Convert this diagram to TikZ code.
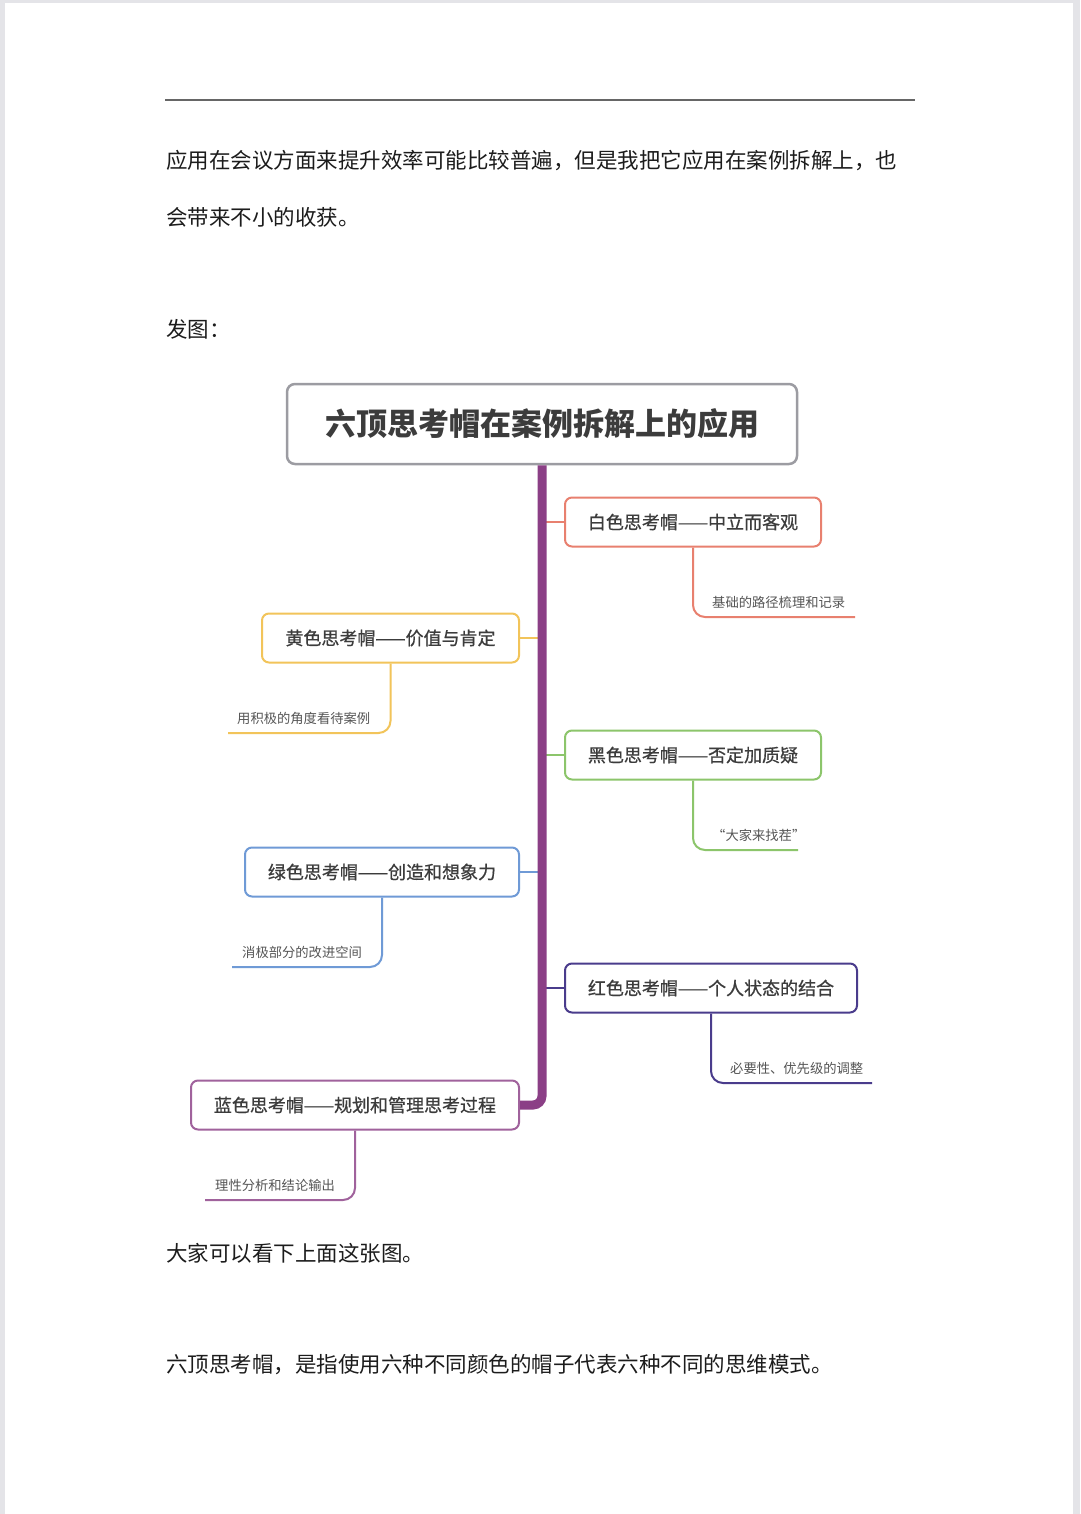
\documentclass[tikz,border=0pt]{standalone}
\usepackage{fontspec}
\setmainfont{Noto Sans CJK SC}
\newfontfamily\hatfont[FakeBold=0.7]{Noto Sans CJK SC}
\usepackage{xcolor}
\usepackage{tikz}
\usetikzlibrary{positioning,calc}
\definecolor{PageEdge}{HTML}{E4E4E8}
\definecolor{BodyInk}{HTML}{1C1C1C}
\definecolor{BoxInk}{HTML}{3C3C3C}
\definecolor{SubInk}{HTML}{555555}
\definecolor{TitleRule}{HTML}{9C9CA2}
\definecolor{TrunkPurple}{HTML}{8B3F86}
\definecolor{HatWhite}{HTML}{E8806F}
\definecolor{HatYellow}{HTML}{F2C45A}
\definecolor{HatBlack}{HTML}{8CC56B}
\definecolor{HatGreen}{HTML}{6F9AD6}
\definecolor{HatRed}{HTML}{4A3C8C}
\definecolor{HatBlue}{HTML}{A0629C}

\begin{document}
\begin{tikzpicture}[x=1pt,y=-1pt,
  body/.style={anchor=west,inner sep=0pt,text=BodyInk,font=\fontsize{21.5}{26}\selectfont},
  hat/.style={draw=#1,line width=2pt,rounded corners=7pt,fill=white,minimum height=49pt,inner sep=0pt,
    text=BoxInk,font=\hatfont\fontsize{18}{22}\selectfont},
  link/.style={draw=#1,line width=2.5pt},
  leaf/.style={draw=#1,line width=2pt,rounded corners=12pt},
  sub/.style={anchor=west,inner sep=0pt,text=SubInk,font=\fontsize{13.3}{16}\selectfont}
]
\useasboundingbox (0,0) rectangle (1080,1514);
\fill[PageEdge] (0,0) rectangle (1080,1514);
\fill[white] (5,3) rectangle (1073,1514);

% page text
\coordinate (ruleL) at (165,100);
\coordinate (ruleR) at (915,100);
\draw[line width=2.2pt,black!60] (ruleL) -- (ruleR);
\node[body] (para1) at (166,161) {应用在会议方面来提升效率可能比较普遍，但是我把它应用在案例拆解上，也};
\node[body] (para2) at (166,217) {会带来不小的收获。};
\node[body] (fatu) at (166,329) {发图：};
\node[body] (look) at (166,1253) {大家可以看下上面这张图。};
\node[body] (define) at (166,1365) {六顶思考帽，是指使用六种不同颜色的帽子代表六种不同的思维模式。};

% mind map
\node[draw=TitleRule,line width=2.5pt,rounded corners=8pt,minimum width=510pt,minimum height=80pt,
  text=BoxInk,font=\fontsize{31}{36}\selectfont\bfseries] (title) at (542,424) {六顶思考帽在案例拆解上的应用};

\node[hat=HatWhite,minimum width=256pt] (white) at (693,522) {白色思考帽——中立而客观};
\node[hat=HatYellow,minimum width=257pt] (yellow) at (390.5,638) {黄色思考帽——价值与肯定};
\node[hat=HatBlack,minimum width=256pt] (black) at (693,755) {黑色思考帽——否定加质疑};
\node[hat=HatGreen,minimum width=274pt] (green) at (382,872) {绿色思考帽——创造和想象力};
\node[hat=HatRed,minimum width=292pt] (red) at (711,988) {红色思考帽——个人状态的结合};
\node[hat=HatBlue,minimum width=328pt] (blue) at (355,1105) {蓝色思考帽——规划和管理思考过程};

\draw[link=HatWhite] (white.west) -- (white.west -| title.south);
\draw[link=HatYellow] (yellow.east) -- (yellow.east -| title.south);
\draw[link=HatBlack] (black.west) -- (black.west -| title.south);
\draw[link=HatGreen] (green.east) -- (green.east -| title.south);
\draw[link=HatRed] (red.west) -- (red.west -| title.south);
\draw[TrunkPurple,line width=9pt,rounded corners=9pt] (title.south) |- (blue.east);

% leaves
\coordinate (whiteEnd) at (855,617);
\coordinate (yellowEnd) at (228,733);
\coordinate (blackEnd) at (798,850);
\coordinate (greenEnd) at (232,967);
\coordinate (redEnd) at (872,1083);
\coordinate (blueEnd) at (205,1200);
\draw[leaf=HatWhite] (white.south) |- (whiteEnd);
\draw[leaf=HatYellow] (yellow.south) |- (yellowEnd);
\draw[leaf=HatBlack] (black.south) |- (blackEnd);
\draw[leaf=HatGreen] (green.south) |- (greenEnd);
\draw[leaf=HatRed] (red.south) |- (redEnd);
\draw[leaf=HatBlue] (blue.south) |- (blueEnd);
\node[sub] (whiteNote) at (712,602) {基础的路径梳理和记录};
\node[sub] (yellowNote) at (237,718) {用积极的角度看待案例};
\node[sub] (blackNote) at (712,835) {“大家来找茬”};
\node[sub] (greenNote) at (242,952) {消极部分的改进空间};
\node[sub] (redNote) at (730,1068) {必要性、优先级的调整};
\node[sub] (blueNote) at (215,1185) {理性分析和结论输出};
\end{tikzpicture}
\end{document}
